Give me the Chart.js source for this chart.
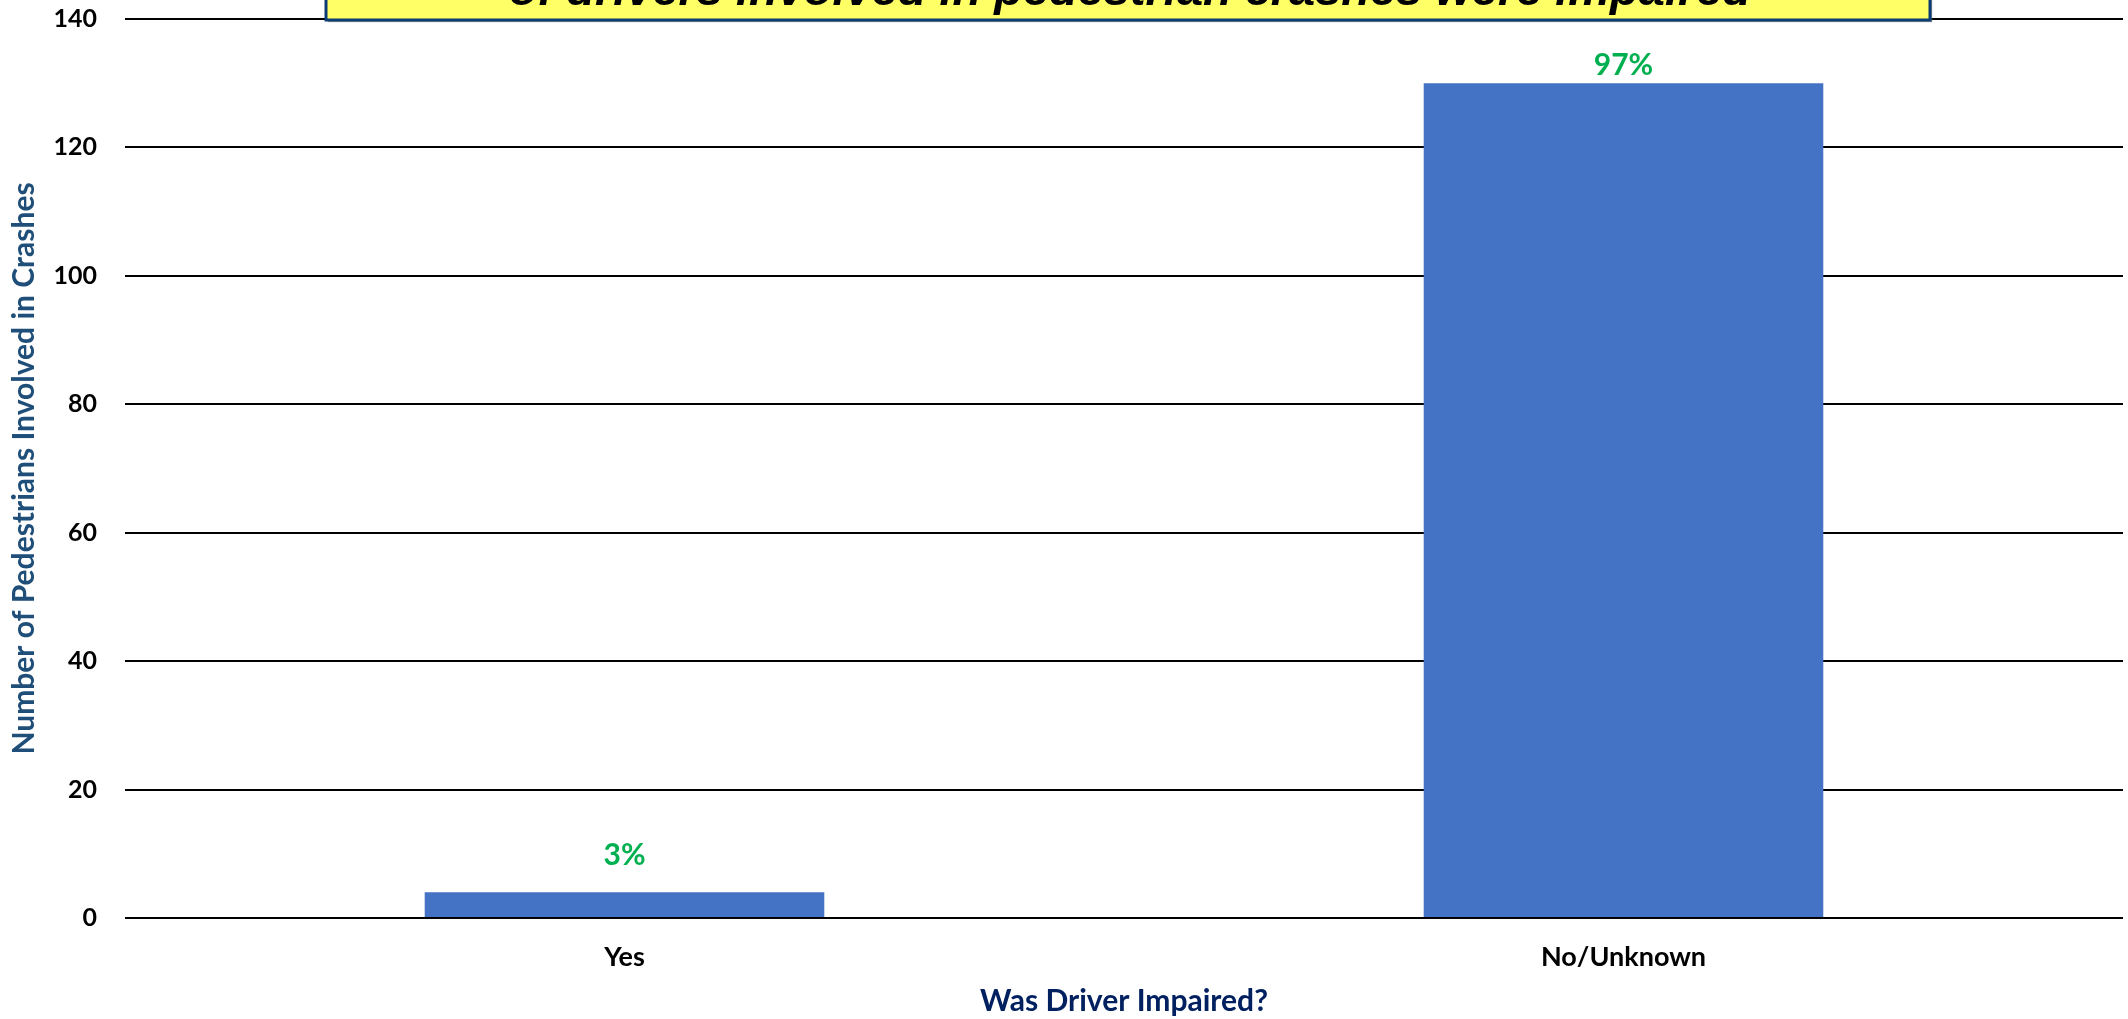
<!DOCTYPE html>
<html>
<head>
<meta charset="utf-8">
<script src="https://cdn.jsdelivr.net/npm/chart.js@4/dist/chart.umd.min.js"></script>
<style>
html,body{margin:0;padding:0;background:#fff;}
#wrap{width:2128px;height:1019px;position:relative;}
</style>
</head>
<body>
<div id="wrap"><canvas id="c" width="2128" height="1019"></canvas></div>
<script>
const categories = ["Yes", "No/Unknown"];
const pedestrianCounts = [4, 130];
const percentLabels = ["3%", "97%"];
const yTicks = [0, 20, 40, 60, 80, 100, 120, 140];
const titleText = "of drivers involved in pedestrian crashes were impaired";
const xAxisTitle = "Was Driver Impaired?";
const yAxisTitle = "Number of Pedestrians Involved in Crashes";

const FONT = "Lato, 'Open Sans', 'DejaVu Sans', sans-serif";

const labelPlugin = {
  id: 'pctLabels',
  afterDatasetsDraw(chart, args, opts) {
    const ctx = chart.ctx;
    const meta = chart.getDatasetMeta(0);
    ctx.save();
    ctx.font = "bold 30px " + FONT;
    ctx.fillStyle = "#00B050";
    ctx.textAlign = "center";
    ctx.textBaseline = "middle";
    meta.data.forEach((bar, i) => {
      const off = opts.offsets[i] || 20;
      ctx.fillText(percentLabels[i], bar.x, bar.y - off);
    });
    ctx.restore();
  }
};

const titleBoxPlugin = {
  id: 'titleBox',
  afterDraw(chart) {
    const ctx = chart.ctx;
    ctx.save();
    const x0 = 326, x1 = 1930, yTop = -60, yBot = 20;
    ctx.shadowColor = "rgba(90,90,90,0.6)";
    ctx.shadowOffsetX = 2;
    ctx.shadowOffsetY = 2;
    ctx.shadowBlur = 1;
    ctx.fillStyle = "#FFFF66";
    ctx.fillRect(x0, yTop, x1 - x0, yBot - yTop);
    ctx.shadowColor = "transparent";
    ctx.strokeStyle = "#0B3C73";
    ctx.lineWidth = 3;
    ctx.strokeRect(x0, yTop, x1 - x0, yBot - yTop);
    ctx.font = "italic bold 47px 'Liberation Sans', Arial, sans-serif";
    ctx.fillStyle = "#000";
    ctx.textAlign = "center";
    ctx.textBaseline = "alphabetic";
    const cx = 1130, targetW = 1242;
    const w = ctx.measureText(titleText).width;
    const sx = targetW / w;
    ctx.translate(cx, 5);
    ctx.scale(sx, 1);
    ctx.fillText(titleText, 0, 0);
    ctx.restore();
  }
};

new Chart(document.getElementById('c'), {
  type: 'bar',
  data: {
    labels: categories,
    datasets: [{
      data: pedestrianCounts,
      backgroundColor: "#4472C4",
      borderWidth: 0,
      barPercentage: 0.4,
      categoryPercentage: 1.0
    }]
  },
  options: {
    responsive: false,
    animation: false,
    layout: { padding: { top: 19, right: 5, left: 0, bottom: 0 } },
    plugins: {
      legend: { display: false },
      tooltip: { enabled: false },
      title: { display: false },
      pctLabels: { offsets: [37, 18] }
    },
    scales: {
      x: {
        grid: { display: false, drawTicks: false },
        border: { display: false },
        ticks: { color: "#000", font: { family: FONT, size: 27, weight: 'bold' }, padding: 23 },
        title: { display: true, text: xAxisTitle, color: "#002060",
                 font: { family: FONT, size: 30, weight: 'bold' }, padding: { top: 0, bottom: 0 } },
        afterFit(scale) { scale.height = 101; scale.paddingLeft = 0; scale.paddingRight = 0; }
      },
      y: {
        min: 0, max: 140,
        afterBuildTicks(scale) { scale.ticks = yTicks.map(v => ({ value: v })); },
        grid: { color: "#000", lineWidth: 2, drawTicks: false },
        border: { display: false },
        ticks: { color: "#000", font: { family: FONT, size: 25, weight: 'bold' }, padding: 28 },
        title: { display: true, text: yAxisTitle, color: "#1F4E79",
                 font: { family: FONT, size: 30, weight: 'bold' }, padding: { top: 6, bottom: 0 } },
        afterFit(scale) { scale.width = 125; scale.paddingTop = 0; scale.paddingBottom = 0; }
      }
    }
  },
  plugins: [labelPlugin, titleBoxPlugin]
});
</script>
</body>
</html>
